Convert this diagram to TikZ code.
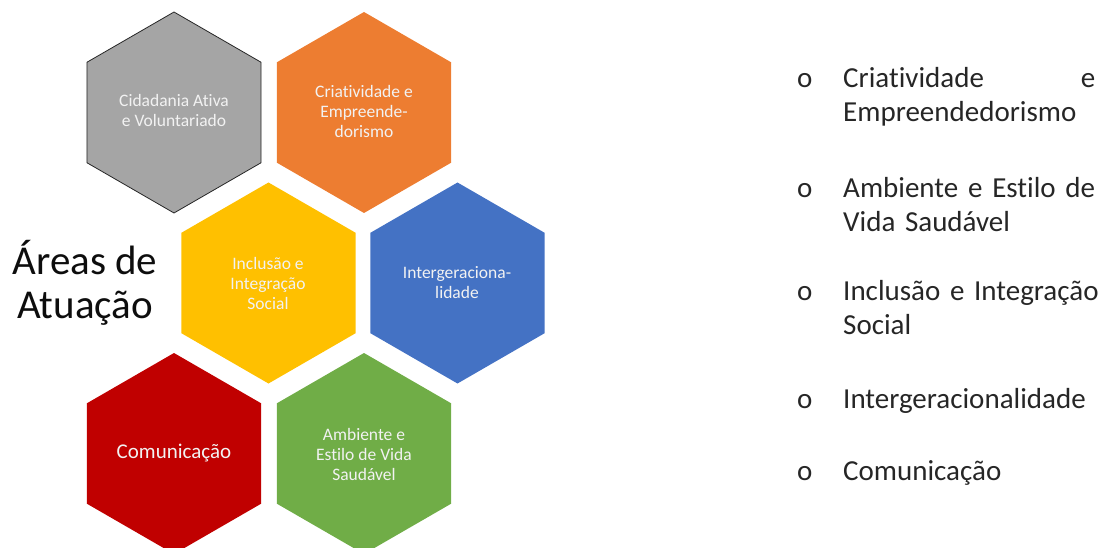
\documentclass[tikz,border=0pt]{standalone}
\usepackage{fontspec}
\setmainfont{Carlito}[Ligatures=NoCommon]
\definecolor{hexgray}{HTML}{A5A5A5}
\definecolor{hexorange}{HTML}{ED7D31}
\definecolor{hexyellow}{HTML}{FFC000}
\definecolor{hexblue}{HTML}{4472C4}
\definecolor{hexred}{HTML}{C00000}
\definecolor{hexgreen}{HTML}{70AD47}
\definecolor{hextxt}{HTML}{F2F2F2}
\definecolor{listcol}{HTML}{262626}
\tikzset{
  hextext/.style={text=hextxt, font=\fontsize{17.5}{20}\selectfont, align=center, inner sep=0pt},
  listtext/.style={font=\fontsize{29}{34}\selectfont, text=listcol, anchor=base west, inner sep=0pt, text width=252pt, align=left},
  bulletmark/.style={font=\fontsize{29}{34}\selectfont, text=listcol, anchor=base west, inner sep=0pt},
}
\begin{document}
\begin{tikzpicture}[x=1pt,y=-1pt]
\useasboundingbox (0,0) rectangle (1108,548);
\clip (0,0) rectangle (1108,548);
\def\R{100.5}
\foreach \cx/\cy/\col in {174/112.5/hexgray, 364/112.5/hexorange, 268.5/283/hexyellow, 457.5/283/hexblue, 174/453.5/hexred, 364/453.5/hexgreen}{
  \fill[\col] (\cx,\cy) +(90:\R) -- +(30:\R) -- +(-30:\R) -- +(-90:\R) -- +(-150:\R) -- +(150:\R) -- cycle;
}
\draw[black!85, line width=0.8pt] (174,112.5) +(90:\R) -- +(30:\R) -- +(-30:\R) -- +(-90:\R) -- +(-150:\R) -- +(150:\R) -- cycle;

\node[hextext] (cid) at (174,110) {Cidadania Ativa\\e Voluntariado};
\node[hextext] (cri) at (364,111) {Criatividade e\\Empreende-\\dorismo};
\node[hextext] (inc) at (268,283) {Inclusão e\\Integração\\Social};
\node[hextext] (int) at (457,283) {Intergeraciona-\\lidade};
\node[hextext, font=\fontsize{21}{24}\selectfont] (com) at (174,453) {Comunicação};
\node[hextext] (amb) at (364,454) {Ambiente e\\Estilo de Vida\\Saudável};

\node[font=\fontsize{41}{44}\selectfont, text=black!95, align=center, inner sep=0pt] (title) at (85,283) {Áreas de\\Atuação};

\node[bulletmark] (b1) at (797,88) {o};
\node[listtext] (l1) at (843,88) {Criatividade\hfill e\\Empreendedorismo};
\node[bulletmark] (b2) at (797,197) {o};
\node[listtext] (l2) at (843,197) {Ambiente\hfill e\hfill Estilo\hfill de\\Vida Saudável};
\node[bulletmark] (b3) at (797,300) {o};
\node[listtext] (l3) at (843,300) {\mbox{Inclusão e Integração}\\Social};
\node[bulletmark] (b4) at (797,408) {o};
\node[listtext] (l4) at (843,408) {Intergeracionalidade};
\node[bulletmark] (b5) at (797,480) {o};
\node[listtext] (l5) at (843,480) {Comunicação};
\end{tikzpicture}
\end{document}
